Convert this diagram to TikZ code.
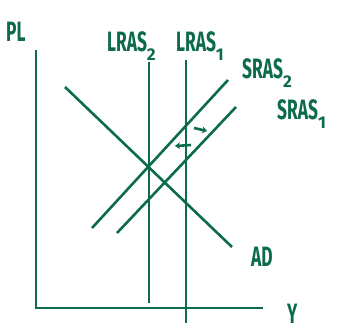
\documentclass[tikz,border=0pt]{standalone}
\usepackage{fontspec}
\setmainfont{Fira Sans}
\usetikzlibrary{arrows.meta}
\definecolor{pen}{HTML}{0B6B4C}
\newcommand{\lowsub}[1]{\raisebox{-0.3em}{\fontsize{17}{17}\selectfont #1}}
\newcommand{\hand}[1]{\scalebox{0.62}[1]{#1}}
\tikzset{
  curve/.style={draw=pen, line width=2.6pt},
  shiftarrow/.style={draw=pen, line width=2.6pt, -{Stealth[length=5pt,width=7pt]}},
  lbl/.style={text=pen, font=\fontsize{28}{28}\selectfont\bfseries, inner sep=0pt, anchor=base west}
}
\begin{document}
\begin{tikzpicture}[x=1pt,y=-1pt]
\useasboundingbox (0,0) rectangle (347,331);
% axes
\coordinate (ytop) at (36,50);
\coordinate (O) at (36,308);
\coordinate (xend) at (263,308);
\draw[curve] (ytop) -- (O) -- (xend);
% LRAS lines
\coordinate (l2t) at (149,62); \coordinate (l2b) at (149,303);
\coordinate (l1t) at (186,60); \coordinate (l1b) at (186,323);
\draw[curve] (l2t) -- (l2b);
\draw[curve] (l1t) -- (l1b);
% SRAS lines
\coordinate (s2a) at (92,228); \coordinate (s2b) at (228,80);
\coordinate (s1a) at (117,233); \coordinate (s1b) at (236,107);
\draw[curve] (s2a) -- (s2b);
\draw[curve] (s1a) -- (s1b);
% AD
\coordinate (ada) at (65,87); \coordinate (adb) at (232,247);
\draw[curve] (ada) -- (adb);
% shift arrows
\coordinate (la) at (191,145); \coordinate (lb) at (175,146);
\coordinate (ra) at (194,128); \coordinate (rb) at (207,131);
\draw[shiftarrow] (la) -- (lb);
\draw[shiftarrow] (ra) -- (rb);
% labels
\node[lbl] (pl) at (6,42) {\hand{PL}};
\node[lbl] (lras2) at (107,52) {\hand{LRAS}\lowsub{2}};
\node[lbl] (lras1) at (176,52) {\hand{LRAS}\lowsub{1}};
\node[lbl] (sras2) at (242,79) {\hand{SRAS}\lowsub{2}};
\node[lbl] (sras1) at (277,120) {\hand{SRAS}\lowsub{1}};
\node[lbl] (ad) at (251,266) {\hand{AD}};
\node[lbl] (y) at (287,323) {\hand{Y}};
\end{tikzpicture}
\end{document}
